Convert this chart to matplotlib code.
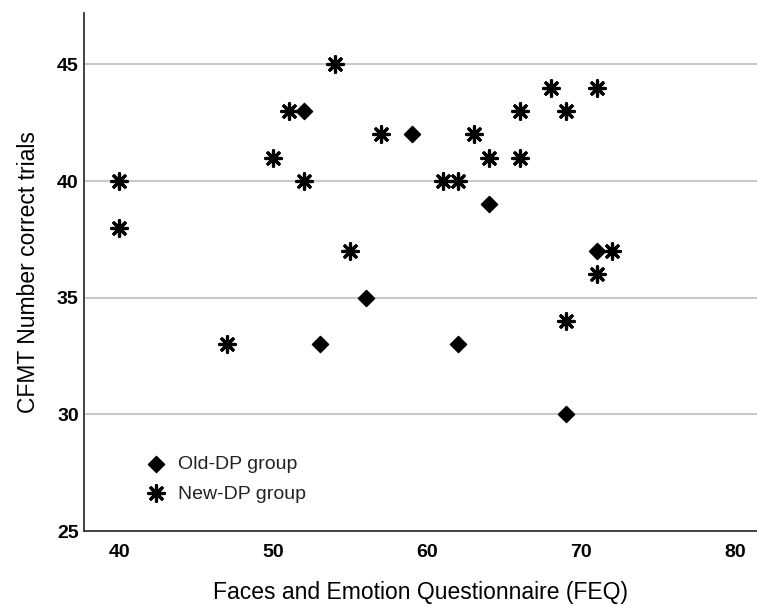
import matplotlib
matplotlib.use("Agg")
import matplotlib.pyplot as plt

plt.rcParams['font.family'] = ['Liberation Sans', 'DejaVu Sans']

# Old-DP group (diamonds)
old_feq = [52, 59, 64, 56, 53, 62, 71, 69]
old_cfmt = [43, 42, 39, 35, 33, 33, 37, 30]

# New-DP group (asterisks)
new_feq = [40, 40, 47, 50, 51, 52, 54, 55, 57, 61, 62, 63, 64, 66, 66, 68, 69, 71, 71, 72, 69]
new_cfmt = [40, 38, 33, 41, 43, 40, 45, 37, 42, 40, 40, 42, 41, 43, 41, 44, 43, 44, 36, 37, 34]

x_ticks = [40, 50, 60, 70, 80]
y_ticks = [25, 30, 35, 40, 45]

fig = plt.figure(figsize=(7.57, 6.06), dpi=100)
ax = fig.add_axes([84.3 / 757, 1 - 531 / 606, 1 - 84.3 / 757, (531 - 13) / 606])

ax.set_xlim(37.73, 81.4)
ax.set_ylim(25, 47.2)

for y in y_ticks[1:]:
    ax.axhline(y, color='#c8c8c8', lw=1.4, zorder=0)

ax.scatter(old_feq, old_cfmt, marker='D', s=68, color='black', label='Old-DP group', zorder=3)
ax.scatter(new_feq, new_cfmt, marker=(8, 2, 0), s=125, color='black', linewidths=2.3,
           label='New-DP group', zorder=3)

ax.set_xticks(x_ticks)
ax.set_yticks(y_ticks)
ax.tick_params(axis='both', length=0, labelsize=14)
ax.tick_params(axis='x', pad=9.5)
ax.tick_params(axis='y', pad=4)
for lbl in ax.get_xticklabels() + ax.get_yticklabels():
    lbl.set_fontweight('bold')

for s in ['top', 'right']:
    ax.spines[s].set_visible(False)
for s in ['left', 'bottom']:
    ax.spines[s].set_color('#333333')
    ax.spines[s].set_linewidth(1.3)

ax.set_xlabel('Faces and Emotion Questionnaire (FEQ)', fontsize=16.5, labelpad=14)
ax.set_ylabel('CFMT Number correct trials', fontsize=16.5, labelpad=12)

leg = ax.legend(loc='upper left', bbox_to_anchor=(0.0625, 0.18), frameon=False,
                fontsize=14, handletextpad=0.55, labelspacing=0.62, handlelength=1.2,
                scatterpoints=1)
for t in leg.get_texts():
    t.set_color('#222222')

fig.savefig('out.png', dpi=100)
